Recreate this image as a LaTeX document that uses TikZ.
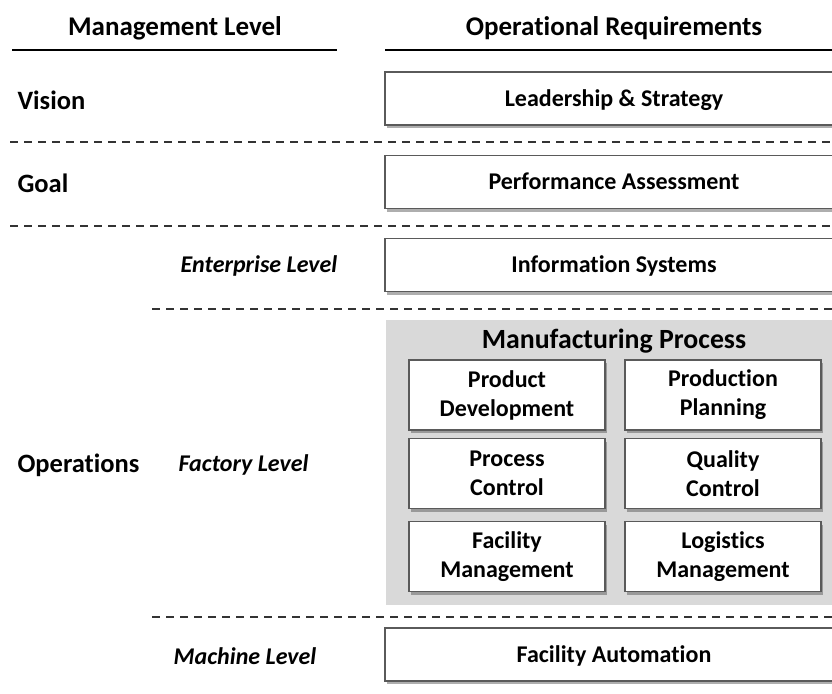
\documentclass[tikz,border=0pt]{standalone}
\usepackage{fontspec}
\setmainfont{Carlito}[Ligatures=NoCommon]
\usetikzlibrary{shadows}
\definecolor{boxborder}{HTML}{5A5A5A}
\definecolor{panelgray}{HTML}{D9D9D9}
\definecolor{dashgray}{HTML}{333333}
\tikzset{
  hdr/.style={font=\bfseries\fontsize{27}{32}\selectfont},
  lvl/.style={font=\bfseries\fontsize{26.5}{32}\selectfont, anchor=west},
  sublvl/.style={font=\bfseries\itshape\fontsize{24}{29}\selectfont},
  reqbox/.style={draw=boxborder, line width=1.1pt, fill=white, minimum width=458pt, minimum height=53pt,
    font=\bfseries\fontsize{24}{29}\selectfont, inner sep=0pt, text height=21pt, text depth=6pt,
    drop shadow={shadow xshift=2pt, shadow yshift=-3pt, opacity=0.45, fill=black!70}},
  subbox/.style={draw=boxborder, line width=1.1pt, fill=white, minimum width=196pt, minimum height=70pt,
    font=\bfseries\fontsize{24}{29}\selectfont, align=center, inner sep=0pt,
    drop shadow={shadow xshift=2pt, shadow yshift=-3pt, opacity=0.45, fill=black!70}},
  panel/.style={fill=panelgray, draw=none, minimum width=460pt, minimum height=285pt, inner sep=0pt},
  sep/.style={draw=dashgray, line width=2pt, dash pattern=on 8pt off 6pt},
  rule/.style={draw=black, line width=2.6pt},
}
\begin{document}
\begin{tikzpicture}[x=1pt, y=-1pt]
\useasboundingbox[fill=white] (0,0) rectangle (832,693);
% headers
\node[hdr] (hmgmt) at (175,28) {Management Level};
\node[hdr] (hops) at (614,28) {Operational Requirements};
\coordinate (r1a) at (12,50); \coordinate (r1b) at (337,50);
\coordinate (r2a) at (385,50); \coordinate (r2b) at (835,50);
\draw[rule] (r1a) -- (r1b);
\draw[rule] (r2a) -- (r2b);
% separators
\coordinate (s1a) at (10,142); \coordinate (s1b) at (835,142);
\coordinate (s2a) at (10,226); \coordinate (s2b) at (835,226);
\coordinate (s3a) at (152,309); \coordinate (s3b) at (835,309);
\coordinate (s4a) at (152,617); \coordinate (s4b) at (835,617);
\draw[sep] (s1a) -- (s1b);
\draw[sep] (s2a) -- (s2b);
\draw[sep] (s3a) -- (s3b);
\draw[sep] (s4a) -- (s4b);
% left labels
\node[lvl] (vision) at (14,100) {Vision};
\node[lvl] (goal) at (14,183) {Goal};
\node[lvl] (ops) at (14,465) {Operations};
\node[sublvl] (ent) at (259,266) {Enterprise Level};
\node[sublvl] (fac) at (243.5,465) {Factory Level};
\node[sublvl] (mach) at (245,656) {Machine Level};
% requirement boxes
\node[reqbox] (lead) at (614,98.5) {Leadership \& Strategy};
\node[reqbox] (perf) at (614,182) {Performance Assessment};
\node[reqbox] (info) at (614,265) {Information Systems};
\node[reqbox] (auto) at (614,654.5) {Facility Automation};
% manufacturing panel
\node[panel] (mfg) at (616,462.5) {};
\node[font=\bfseries\fontsize{27.8}{33}\selectfont] (mfgt) at (614,341) {Manufacturing Process};
\node[subbox] (pd) at (507,395) {Product\\Development};
\node[subbox] (pp) at (723,395) {Production\\Planning};
\node[subbox] (pc) at (507,473.5) {Process\\Control};
\node[subbox] (qc) at (723,473.5) {Quality\\Control};
\node[subbox] (fm) at (507,556.5) {Facility\\Management};
\node[subbox] (lm) at (723,556.5) {Logistics\\Management};
\end{tikzpicture}
\end{document}
